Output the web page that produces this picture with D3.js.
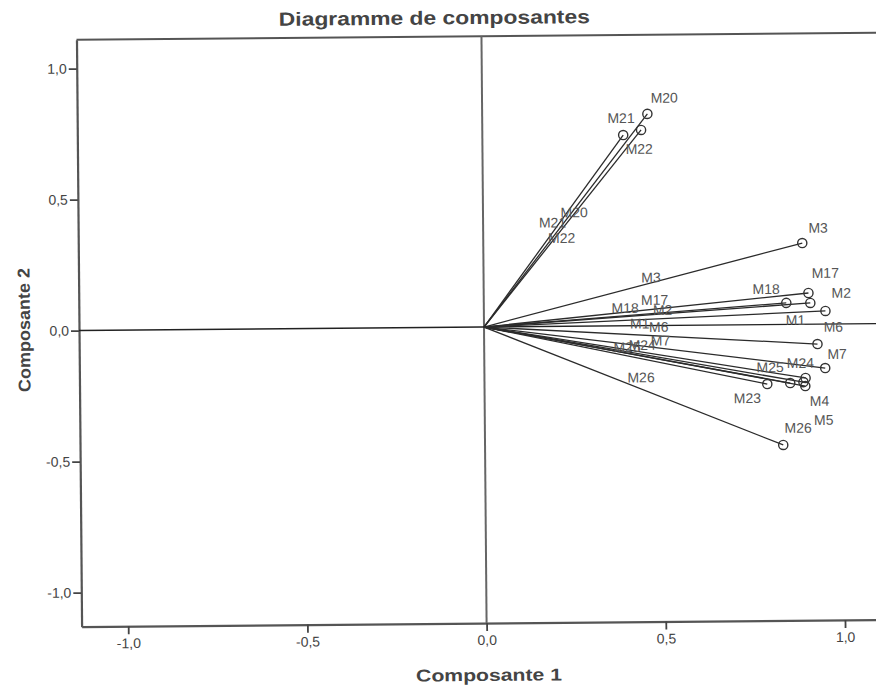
<!DOCTYPE html>
<html>
<head>
<meta charset="utf-8">
<script src="https://cdn.jsdelivr.net/npm/d3@7"></script>
<style>
  body { margin: 0; background: #fff; }
  text { font-family: "Liberation Sans", Arial, sans-serif; }
</style>
</head>
<body>
<div id="chart"></div>
<script>
// component loadings
const names = ["M1", "M2", "M3", "M4", "M5", "M6", "M7", "M17", "M18",
  "M20", "M21", "M22", "M23", "M24", "M25", "M26"];
const comp1 = [0.911, 0.953, 0.890, 0.895, 0.890, 0.930, 0.951, 0.906, 0.844,
  0.461, 0.393, 0.443, 0.789, 0.896, 0.853, 0.832];
const comp2 = [0.081, 0.050, 0.310, -0.236, -0.221, -0.076, -0.168, 0.119, 0.082,
  0.808, 0.728, 0.747, -0.227, -0.205, -0.224, -0.460];
// vectors that also carry a label half way
const midNamed = ["M1", "M2", "M3", "M6", "M7", "M17", "M18", "M20", "M21",
  "M22", "M24", "M25", "M26"];
const xTicks = [-1.0, -0.5, 0.0, 0.5, 1.0];
const yTicks = [-1.0, -0.5, 0.0, 0.5, 1.0];

// label nudges in px (centre of text relative to the point)
const nudge = {
  M1: [-15, 17], M2: [16, -18], M3: [16, -15], M4: [14, 15], M5: [20, 38],
  M6: [16, -17], M7: [12, -14], M17: [17, -20], M18: [-20, -14], M20: [17, -16],
  M21: [-2, -17], M22: [-2, 19], M23: [-20, 14], M24: [-5, -15], M25: [-20, -16],
  M26: [15, -17]
};

const W = 876, H = 693;
const pLeft = 79, pRight = 889, pTop = 36.2, pBottom = 623.1;

const svg = d3.select("#chart").append("svg")
  .attr("width", W).attr("height", H);

// the scan is a little tilted
const g = svg.append("g").attr("transform", "rotate(-0.5, 484, 327)");

const x = d3.scaleLinear().domain([-1.13, 1.13]).range([pLeft, pRight]);
const y = d3.scaleLinear().domain([-1.13, 1.11]).range([pBottom, pTop]);

const fr = d3.formatLocale({decimal: ",", thousands: ".", grouping: [3],
  currency: ["", "€"], minus: "-"});
const fmt = fr.format(".1f");

const data = names.map((n, i) => ({name: n, c1: comp1[i], c2: comp2[i]}));

g.append("text")
  .attr("x", 437).attr("y", 24)
  .attr("text-anchor", "middle")
  .attr("font-size", 19).attr("font-weight", "bold")
  .attr("fill", "#444")
  .attr("textLength", 311).attr("lengthAdjust", "spacingAndGlyphs")
  .text("Diagramme de composantes");

// frame top / right
g.append("line")
  .attr("x1", pLeft).attr("x2", pRight).attr("y1", pTop).attr("y2", pTop)
  .attr("stroke", "#555").attr("stroke-width", 2);
g.append("line")
  .attr("x1", pRight).attr("x2", pRight).attr("y1", pTop).attr("y2", pBottom)
  .attr("stroke", "#555").attr("stroke-width", 2);

const xAxis = g.append("g")
  .attr("transform", "translate(0," + pBottom + ")")
  .call(d3.axisBottom(x).tickValues(xTicks).tickFormat(fmt)
    .tickSize(8).tickSizeOuter(0).tickPadding(4));

const yAxis = g.append("g")
  .attr("transform", "translate(" + pLeft + ",0)")
  .call(d3.axisLeft(y).tickValues(yTicks).tickFormat(fmt)
    .tickSize(8).tickSizeOuter(0).tickPadding(2));

[xAxis, yAxis].forEach(a => {
  a.select(".domain").attr("stroke", "#555").attr("stroke-width", 2.2);
  a.selectAll(".tick line").attr("stroke", "#444").attr("stroke-width", 1.8);
  a.selectAll(".tick text")
    .attr("fill", "#444")
    .attr("font-size", 14)
    .attr("font-family", "Liberation Sans, Arial, sans-serif");
});

g.append("text")
  .attr("x", 486).attr("y", 681)
  .attr("text-anchor", "middle")
  .attr("font-size", 17).attr("font-weight", "bold").attr("fill", "#444")
  .attr("textLength", 146).attr("lengthAdjust", "spacingAndGlyphs")
  .text("Composante 1");

g.append("text")
  .attr("transform", "translate(30,326) rotate(-90)")
  .attr("text-anchor", "middle")
  .attr("font-size", 17).attr("font-weight", "bold").attr("fill", "#444")
  .attr("textLength", 124).attr("lengthAdjust", "spacingAndGlyphs")
  .text("Composante 2");

// zero reference lines
g.append("line")
  .attr("x1", x(0)).attr("x2", x(0)).attr("y1", pTop).attr("y2", pBottom)
  .attr("stroke", "#666").attr("stroke-width", 2);
g.append("line")
  .attr("x1", pLeft).attr("x2", pRight).attr("y1", y(0)).attr("y2", y(0))
  .attr("stroke", "#222").attr("stroke-width", 1.4);

// vectors
g.selectAll(".vec")
  .data(data)
  .enter()
  .append("line")
  .attr("class", "vec")
  .attr("x1", x(0)).attr("y1", y(0))
  .attr("x2", d => x(d.c1)).attr("y2", d => y(d.c2))
  .attr("stroke", "#2b2b2b").attr("stroke-width", 1.3);

g.selectAll(".pt")
  .data(data)
  .enter()
  .append("circle")
  .attr("class", "pt")
  .attr("cx", d => x(d.c1)).attr("cy", d => y(d.c2))
  .attr("r", 4.6)
  .attr("fill", "none").attr("stroke", "#333").attr("stroke-width", 1.4);

const endX = d => x(d.c1) + nudge[d.name][0];
const endY = d => y(d.c2) + nudge[d.name][1];

g.selectAll(".lab")
  .data(data)
  .enter()
  .append("text")
  .attr("class", "lab")
  .attr("x", endX).attr("y", endY)
  .attr("dy", "0.35em")
  .attr("text-anchor", "middle")
  .attr("font-size", 14).attr("fill", "#555")
  .text(d => d.name);

g.selectAll(".mid")
  .data(data.filter(d => midNamed.includes(d.name)))
  .enter()
  .append("text")
  .attr("class", "mid")
  .attr("x", d => (x(0) + endX(d)) / 2)
  .attr("y", d => (y(0) + endY(d)) / 2)
  .attr("dy", "0.35em")
  .attr("text-anchor", "middle")
  .attr("font-size", 14).attr("fill", "#555")
  .text(d => d.name);
</script>
</body>
</html>
